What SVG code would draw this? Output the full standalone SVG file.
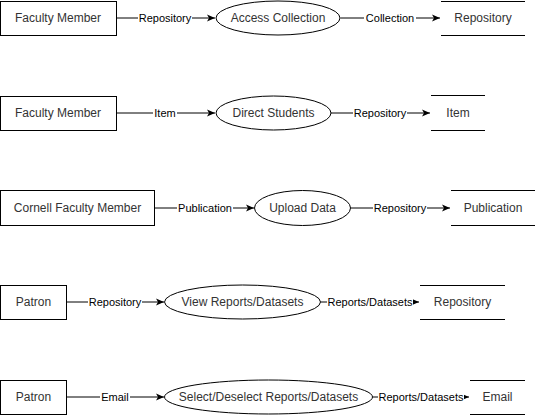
<svg xmlns="http://www.w3.org/2000/svg" width="536" height="416" viewBox="0 0 536 416">
<defs>
<marker id="arr" markerWidth="9" markerHeight="8" refX="8" refY="4" orient="auto" markerUnits="userSpaceOnUse">
<path d="M0,0.5 L8,4 L0,7.5 L2,4 Z" fill="#000"/>
</marker>
<style>
.box{fill:#fff;stroke:#000;stroke-width:1}
.ell{fill:#fff;stroke:#000;stroke-width:1}
.st{stroke:#000;stroke-width:1;fill:none}
.nt{font-family:"Liberation Sans",Arial,sans-serif;font-size:12px;fill:#333;text-anchor:middle;dominant-baseline:central}
.lt{font-family:"Liberation Sans",Arial,sans-serif;font-size:11px;fill:#000;text-anchor:middle;dominant-baseline:central}
.lbg{fill:#fff}
.ln{stroke:#000;stroke-width:1;fill:none}
</style>
</defs>
<rect width="536" height="416" fill="#fff"/>
<g id="connectors">
<!-- row 1 -->
<line class="ln" x1="116.5" y1="18" x2="215" y2="18" marker-end="url(#arr)"/>
<rect class="lbg" x="138" y="11" width="54" height="14"/>
<text class="lt" x="165" y="18">Repository</text>
<line class="ln" x1="340.5" y1="18" x2="440" y2="18" marker-end="url(#arr)"/>
<rect class="lbg" x="364" y="11" width="52" height="14"/>
<text class="lt" x="390" y="18">Collection</text>
<!-- row 2 -->
<line class="ln" x1="116.5" y1="113" x2="215" y2="113" marker-end="url(#arr)"/>
<rect class="lbg" x="153" y="106" width="24" height="14"/>
<text class="lt" x="165" y="113">Item</text>
<line class="ln" x1="331" y1="113" x2="430" y2="113" marker-end="url(#arr)"/>
<rect class="lbg" x="353" y="106" width="54" height="14"/>
<text class="lt" x="380" y="113">Repository</text>
<!-- row 3 -->
<line class="ln" x1="154.5" y1="208" x2="254" y2="208" marker-end="url(#arr)"/>
<rect class="lbg" x="177" y="201" width="56" height="14"/>
<text class="lt" x="205" y="208">Publication</text>
<line class="ln" x1="350.5" y1="208" x2="450" y2="208" marker-end="url(#arr)"/>
<rect class="lbg" x="373" y="201" width="54" height="14"/>
<text class="lt" x="400" y="208">Repository</text>
<!-- row 4 -->
<line class="ln" x1="66.5" y1="302" x2="164" y2="302" marker-end="url(#arr)"/>
<rect class="lbg" x="88" y="295" width="54" height="14"/>
<text class="lt" x="115" y="302">Repository</text>
<line class="ln" x1="320.5" y1="302" x2="419" y2="302" marker-end="url(#arr)"/>
<rect class="lbg" x="327" y="295" width="86" height="14"/>
<text class="lt" x="370" y="302">Reports/Datasets</text>
<!-- row 5 -->
<line class="ln" x1="66.5" y1="397" x2="164" y2="397" marker-end="url(#arr)"/>
<rect class="lbg" x="100" y="390" width="30" height="14"/>
<text class="lt" x="115" y="397">Email</text>
<line class="ln" x1="372.5" y1="397" x2="469" y2="397" marker-end="url(#arr)"/>
<rect class="lbg" x="378" y="390" width="86" height="14"/>
<text class="lt" x="421" y="397">Reports/Datasets</text>
</g>
<g id="n1"><rect class="box" x="0.5" y="1.5" width="116" height="34"/><text class="nt" x="58" y="18">Faculty Member</text></g>
<g id="n2"><ellipse class="ell" cx="278" cy="18" rx="62" ry="17"/><text class="nt" x="278" y="18">Access Collection</text></g>
<g id="n3"><line class="st" x1="441" y1="1.5" x2="525" y2="1.5"/><line class="st" x1="441" y1="35.5" x2="525" y2="35.5"/><text class="nt" x="483" y="18">Repository</text></g>
<g id="n4"><rect class="box" x="0.5" y="96.5" width="116" height="34"/><text class="nt" x="58" y="113">Faculty Member</text></g>
<g id="n5"><ellipse class="ell" cx="273.5" cy="113" rx="57.5" ry="17"/><text class="nt" x="273.5" y="113">Direct Students</text></g>
<g id="n6"><line class="st" x1="431" y1="95.5" x2="485" y2="95.5"/><line class="st" x1="431" y1="130.5" x2="485" y2="130.5"/><text class="nt" x="458" y="113">Item</text></g>
<g id="n7"><rect class="box" x="0.5" y="190.5" width="154" height="35"/><text class="nt" x="77.5" y="208">Cornell Faculty Member</text></g>
<g id="n8"><ellipse class="ell" cx="302.5" cy="208" rx="48" ry="17.5"/><text class="nt" x="302.5" y="208">Upload Data</text></g>
<g id="n9"><line class="st" x1="451" y1="190.5" x2="535" y2="190.5"/><line class="st" x1="451" y1="225.5" x2="535" y2="225.5"/><text class="nt" x="493" y="208">Publication</text></g>
<g id="n10"><rect class="box" x="0.5" y="285.5" width="66" height="34"/><text class="nt" x="33.5" y="302">Patron</text></g>
<g id="n11"><ellipse class="ell" cx="242.5" cy="302" rx="78" ry="17"/><text class="nt" x="242.5" y="302">View Reports/Datasets</text></g>
<g id="n12"><line class="st" x1="420" y1="285.5" x2="505" y2="285.5"/><line class="st" x1="420" y1="319.5" x2="505" y2="319.5"/><text class="nt" x="462.5" y="302">Repository</text></g>
<g id="n13"><rect class="box" x="0.5" y="380.5" width="66" height="34"/><text class="nt" x="33.5" y="397">Patron</text></g>
<g id="n14"><ellipse class="ell" cx="268.5" cy="397" rx="104" ry="17"/><text class="nt" x="268.5" y="397">Select/Deselect Reports/Datasets</text></g>
<g id="n15"><line class="st" x1="470" y1="380.5" x2="525" y2="380.5"/><line class="st" x1="470" y1="414.5" x2="525" y2="414.5"/><text class="nt" x="497.5" y="397">Email</text></g>
</svg>
